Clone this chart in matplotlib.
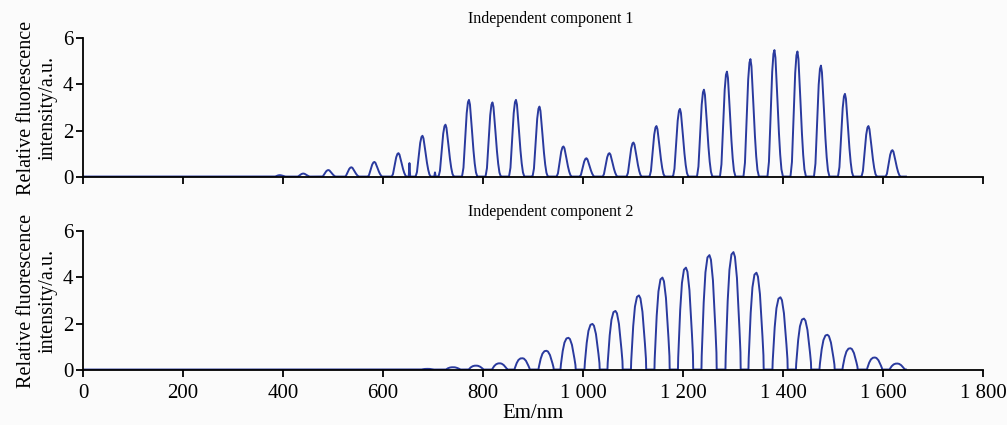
import numpy as np
import matplotlib
matplotlib.use("Agg")
import matplotlib.pyplot as plt
from matplotlib.ticker import FuncFormatter

# peak centres (nm) and heights
ic1_centres = [394, 441, 491, 537, 583, 631, 679, 725, 772, 819, 866, 913, 961,
               1007, 1053, 1101, 1147, 1194, 1242, 1288, 1335, 1383, 1429, 1476,
               1524, 1571, 1619]
ic1_heights = [0.08, 0.15, 0.30, 0.42, 0.65, 1.03, 1.78, 2.26, 3.33, 3.22, 3.33,
               3.04, 1.32, 0.81, 1.03, 1.49, 2.20, 2.94, 3.77, 4.55, 5.09, 5.48,
               5.42, 4.81, 3.59, 2.20, 1.16]
# narrow spikes in component 1
ic1_spike_pos = [653, 704]
ic1_spike_h = [0.60, 0.20]

ic2_centres = [690, 741, 787, 834, 879, 927, 971, 1019, 1065, 1112, 1159, 1206,
               1253, 1301, 1347, 1395, 1442, 1489, 1535, 1584, 1629]
ic2_heights = [0.05, 0.12, 0.19, 0.29, 0.51, 0.83, 1.39, 1.99, 2.55, 3.22, 3.99,
               4.42, 4.96, 5.09, 4.20, 3.14, 2.22, 1.52, 0.94, 0.54, 0.28]

# single-peak outline (offset in nm, fraction of peak height)
ic1_shape_dx = [-14, -11, -8, -5, -2, 0, 2, 5, 8, 11, 14, 17]
ic1_shape_fr = [0.0, 0.12, 0.45, 0.80, 0.97, 1.0, 0.94, 0.70, 0.42, 0.20, 0.06, 0.0]
ic2_shape_dx = [-16, -15.5, -12, -8, -4, 0, 3, 7, 11, 14, 14.5]
ic2_shape_fr = [0.0, 0.12, 0.55, 0.85, 0.98, 1.0, 0.96, 0.78, 0.45, 0.15, 0.0]

x_end = 1646
baseline = 0.02
x_ticks = [0, 200, 400, 600, 800, 1000, 1200, 1400, 1600, 1800]

LINE = "#2a3a9e"
BG = "#fbfbfb"


def spectrum(centres, heights, dx, fr, spikes=(), spike_h=()):
    x = np.arange(0, x_end + 0.5, 0.5)
    y = np.full_like(x, baseline)
    for c, h in zip(centres, heights):
        y = np.maximum(y, np.interp(x, np.array(dx) + c, np.array(fr) * h, left=0, right=0))
    for c, h in zip(spikes, spike_h):
        y = np.maximum(y, np.interp(x, [c - 1.5, c, c + 1.5], [0, h, 0], left=0, right=0))
    return x, y


def thousands(v, _):
    v = int(round(v))
    return f"{v:,}".replace(",", " ")


plt.rcParams["font.family"] = ["Liberation Serif", "DejaVu Serif"]

fig = plt.figure(figsize=(10.07, 4.25), dpi=100, facecolor=BG)
ax1 = fig.add_axes([0.0824, 0.5835, 0.8937, 0.327])
ax2 = fig.add_axes([0.0824, 0.1294, 0.8937, 0.327])

panels = [
    (ax1, spectrum(ic1_centres, ic1_heights, ic1_shape_dx, ic1_shape_fr,
                   ic1_spike_pos, ic1_spike_h), "Independent component 1"),
    (ax2, spectrum(ic2_centres, ic2_heights, ic2_shape_dx, ic2_shape_fr),
     "Independent component 2"),
]

for ax, (x, y), title in panels:
    ax.set_facecolor(BG)
    ax.plot(x, y, color=LINE, lw=1.4)
    ax.set_xlim(0, 1800)
    ax.set_ylim(0, 6)
    ax.set_xticks(x_ticks)
    ax.set_yticks([0, 2, 4, 6])
    for s in ("top", "right"):
        ax.spines[s].set_visible(False)
    for s in ("left", "bottom"):
        ax.spines[s].set_linewidth(1.3)
    ax.tick_params(direction="out", length=5, width=1.3, labelsize=15)
    ax.tick_params(axis="x", pad=5)
    ax.tick_params(axis="y", pad=2)
    ax.set_ylabel("Relative fluorescence\nintensity/a.u.", fontsize=14.5,
                  linespacing=1.15, labelpad=4)
    ax.set_title(title, fontsize=11.5, x=0.52, pad=11)

ax1.tick_params(axis="x", labelbottom=False)
ax2.xaxis.set_major_formatter(FuncFormatter(thousands))
ax2.set_xlabel("Em/nm", fontsize=15, labelpad=1)

fig.savefig("out.png", dpi=100, facecolor=BG)
